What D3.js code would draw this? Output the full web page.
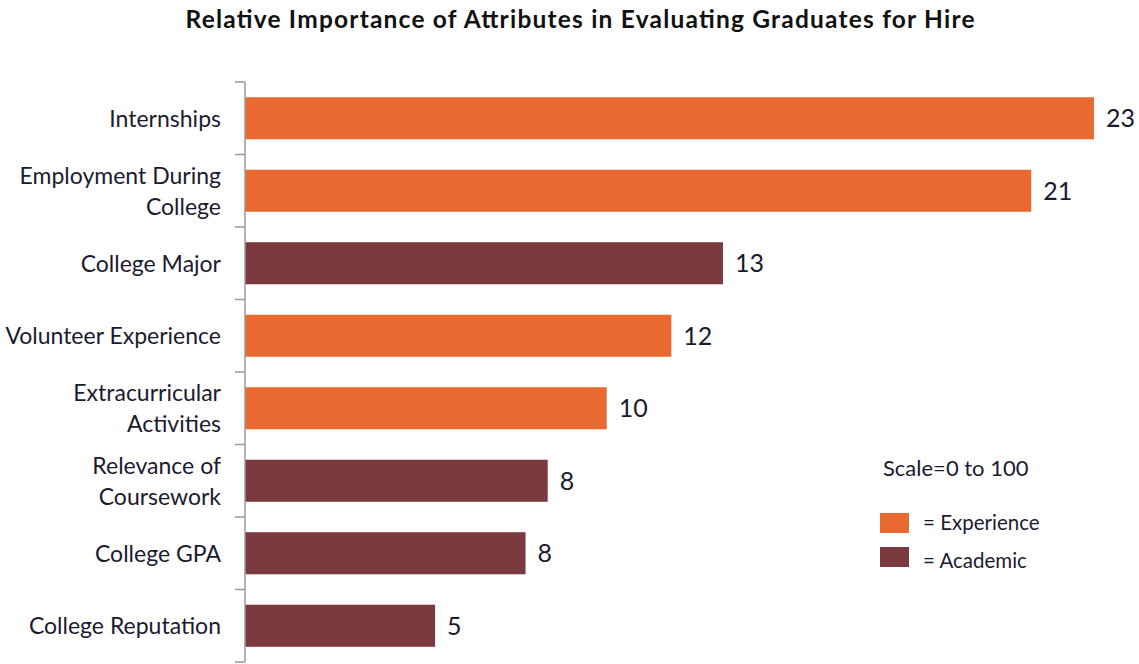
<!DOCTYPE html>
<html>
<head>
<meta charset="utf-8">
<script src="https://cdn.jsdelivr.net/npm/d3@7"></script>
<style>
  html, body { margin: 0; padding: 0; background: #ffffff; }
  svg { display: block; }
</style>
</head>
<body>
<svg id="chart" width="1139" height="664"></svg>
<script>
// ---- data ----
const categories = [
  ["Internships"],
  ["Employment During", "College"],
  ["College Major"],
  ["Volunteer Experience"],
  ["Extracurricular", "Activities"],
  ["Relevance of", "Coursework"],
  ["College GPA"],
  ["College Reputation"]
];
const values = [23, 21.3, 12.95, 11.55, 9.8, 8.2, 7.6, 5.15];
const groups = ["Experience", "Experience", "Academic", "Experience", "Experience", "Academic", "Academic", "Academic"];
const legendKeys = ["Experience", "Academic"];
const legendLabels = ["= Experience", "= Academic"];
const titleText = "Relative Importance of Attributes in Evaluating Graduates for Hire";
const scaleNote = "Scale=0 to 100";

// ---- layout ----
const W = 1139, H = 664;
const axisX = 245;
const fontFam = "Lato, 'Open Sans', sans-serif";
const textCol = "#1b1b30";
const color = d3.scaleOrdinal().domain(legendKeys).range(["#E86A30", "#7B3940"]);

const svg = d3.select("#chart");

const ids = d3.range(categories.length);
const y = d3.scaleBand().domain(ids).range([82, 662]).paddingInner(0.42).paddingOuter(0.21);
const x = d3.scaleLinear().domain([0, 23]).range([axisX, 1094]);

// title
svg.append("text")
  .attr("x", 580).attr("y", 28)
  .attr("text-anchor", "middle")
  .attr("font-family", fontFam).attr("font-weight", "bold")
  .attr("font-size", 24.5).attr("fill", "#111")
  .attr("textLength", 789).attr("lengthAdjust", "spacing")
  .text(titleText);

// bars
svg.append("g").selectAll("rect").data(ids).join("rect")
  .attr("x", x(0))
  .attr("y", i => y(i))
  .attr("width", i => x(values[i]) - x(0))
  .attr("height", y.bandwidth())
  .attr("fill", i => color(groups[i]));

// value labels
const fmt = d3.format(".0f");
svg.append("g").selectAll("text").data(ids).join("text")
  .attr("x", i => x(values[i]) + 12)
  .attr("y", i => y(i) + y.bandwidth() / 2)
  .attr("dy", "0.36em")
  .attr("font-family", fontFam).attr("font-size", 25)
  .attr("fill", textCol)
  .text(i => fmt(values[i]));

// axis (category) with ticks at band boundaries
const axisG = svg.append("g");
axisG.append("line")
  .attr("x1", axisX).attr("x2", axisX)
  .attr("y1", 82).attr("y2", 662)
  .attr("stroke", "#9a9a9a").attr("stroke-width", 1.5);
axisG.selectAll("line.tick").data(d3.range(categories.length + 1)).join("line")
  .attr("class", "tick")
  .attr("x1", axisX - 10).attr("x2", axisX)
  .attr("y1", k => 82 + k * (580 / categories.length))
  .attr("y2", k => 82 + k * (580 / categories.length))
  .attr("stroke", "#9a9a9a").attr("stroke-width", 1.5);

// category labels
const lineH = 31;
const labG = svg.append("g");
ids.forEach(i => {
  const lines = categories[i];
  const cy = y(i) + y.bandwidth() / 2;
  const t = labG.append("text")
    .attr("text-anchor", "end")
    .attr("font-family", fontFam).attr("font-size", 23)
    .attr("fill", textCol);
  lines.forEach((ln, j) => {
    t.append("tspan")
      .attr("x", 221)
      .attr("y", cy + (j - (lines.length - 1) / 2) * lineH)
      .attr("dy", "0.36em")
      .text(ln);
  });
});

// scale note
svg.append("text")
  .attr("x", 883).attr("y", 468).attr("dy", "0.36em")
  .attr("font-family", fontFam).attr("font-size", 22)
  .attr("fill", textCol)
  .text(scaleNote);

// legend
const leg = svg.append("g");
legendKeys.forEach((k, i) => {
  const ly = 513 + i * 34;
  leg.append("rect")
    .attr("x", 880).attr("y", ly)
    .attr("width", 29).attr("height", 20)
    .attr("fill", color(k));
  leg.append("text")
    .attr("x", 923).attr("y", ly + 10 + i * 4).attr("dy", "0.36em")
    .attr("font-family", fontFam).attr("font-size", 20.5)
    .attr("fill", textCol)
    .text(legendLabels[i]);
});
</script>
</body>
</html>
